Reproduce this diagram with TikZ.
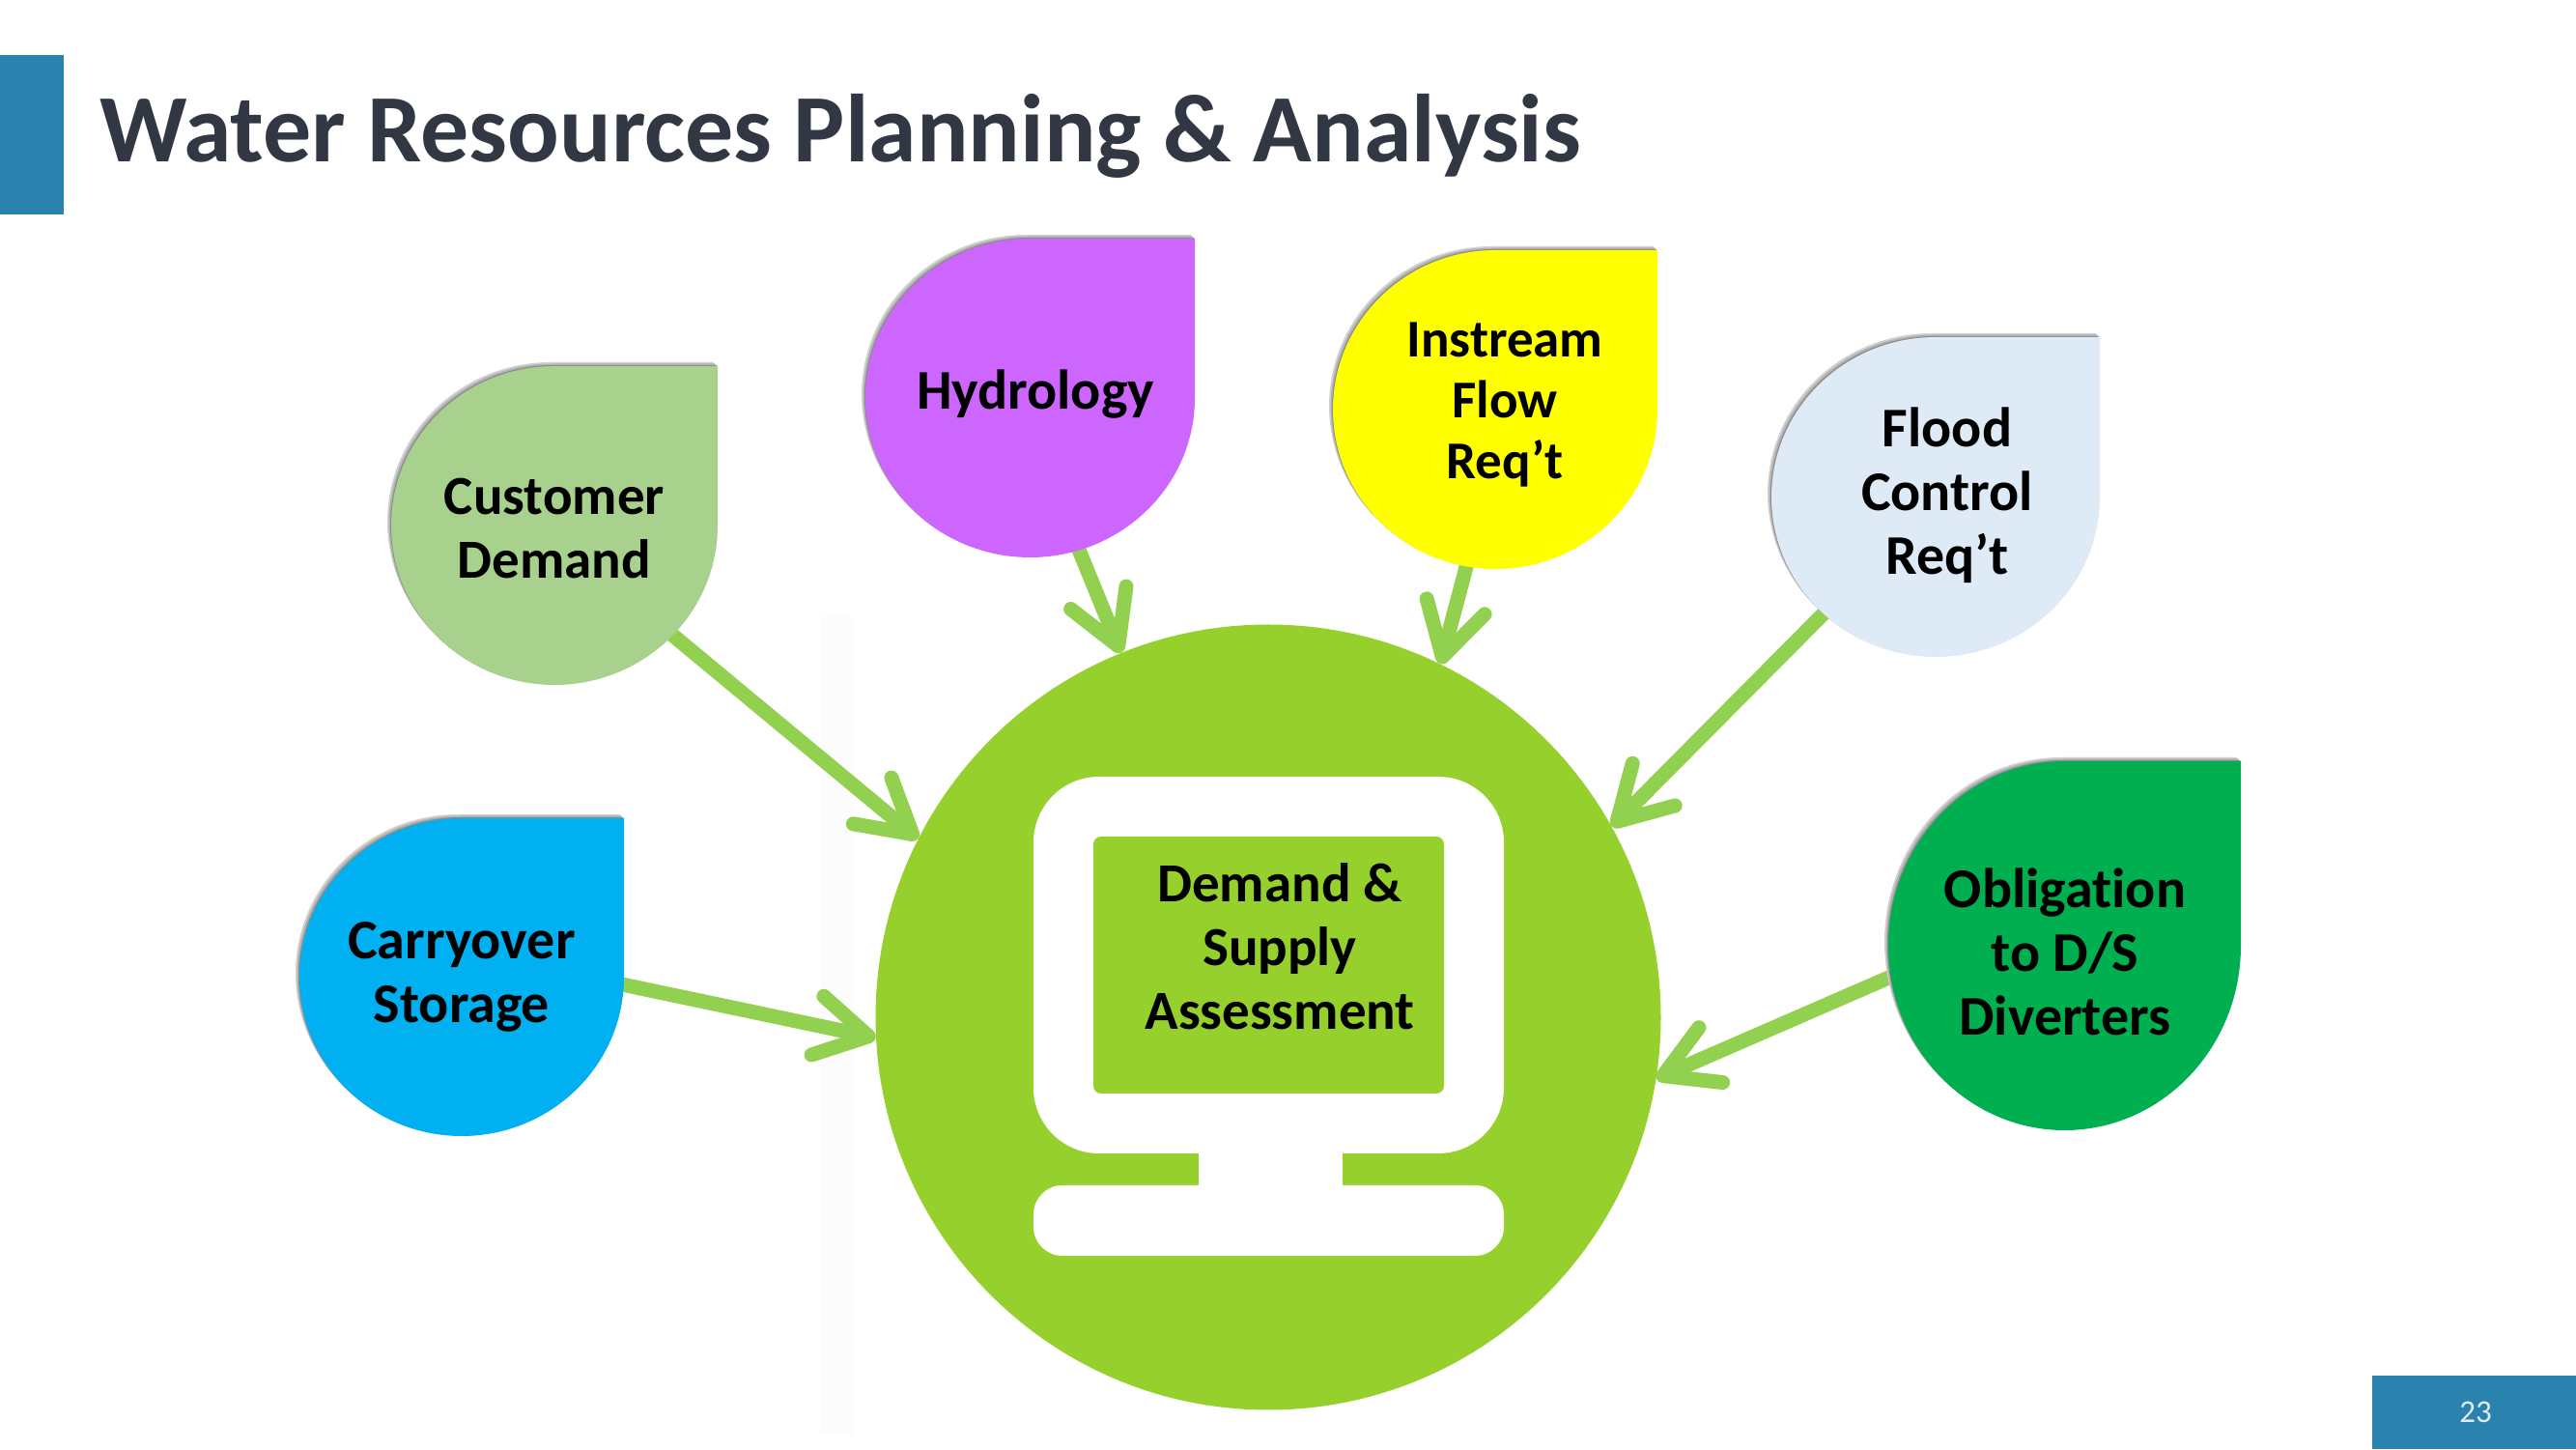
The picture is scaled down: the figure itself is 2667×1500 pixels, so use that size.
\documentclass[tikz,border=0pt]{standalone}
\usepackage{fontspec}
\setmainfont{Carlito}[Ligatures=NoCommon]
\usetikzlibrary{arrows.meta,backgrounds}
\definecolor{banner}{HTML}{2A82AE}
\definecolor{titleink}{HTML}{323843}
\definecolor{hubgreen}{HTML}{96D02D}
\definecolor{flowgreen}{HTML}{92D050}
\definecolor{dropdemand}{HTML}{A9D18E}
\definecolor{drophydro}{HTML}{CC66FF}
\definecolor{dropflow}{HTML}{FFFF00}
\definecolor{dropflood}{HTML}{DEEAF6}
\definecolor{dropstore}{HTML}{00B0F0}
\definecolor{dropoblig}{HTML}{00B050}
% centre x, centre y, radius x, radius y, colour
\newcommand{\teardrop}[5]{
  \foreach \s/\g in {4/18,2.5/30,1/45}
    \fill[black!\g] (#1+#3-\s,#2+#4+\s) -- (#1+#3-\s,#2+\s)
      arc[start angle=0,end angle=-270,x radius=#3,y radius=#4] -- cycle;
  \fill[#5] (#1+#3,#2+#4) -- (#1+#3,#2)
    arc[start angle=0,end angle=-270,x radius=#3,y radius=#4] -- cycle;
}
\tikzset{
  droplabel/.style={align=center,inner sep=0pt,font=\fontsize{29}{33}\selectfont\bfseries},
  flow/.style={flowgreen,line width=7.5pt,-{Straight Barb[length=27pt,width=31pt,line width=7.5pt,round]}}
}

\begin{document}
\begin{tikzpicture}[x=0.5pt,y=0.5pt]
  \useasboundingbox (0,0) rectangle (2667,1500);

  % slide furniture
  \fill[banner] (0,1278) rectangle (66,1443);
  \fill[banner] (2456,0) rectangle (2667,76);
  \node[anchor=base west,inner sep=0pt,titleink,font=\fontsize{50}{50}\selectfont\bfseries] (title) at (103,1332) {Water Resources Planning \& Analysis};
  \node[white!85!banner,inner sep=0pt,font=\fontsize{16.5}{16.5}\selectfont] (page) at (2563,38) {23};

  % hub with the monitor
  \node[circle,fill=hubgreen,inner sep=0pt,minimum size=406.5pt] (hub) at (1313,447) {};
  \fill[white,rounded corners=34pt] (1070,306) rectangle (1557,696);
  \fill[white] (1241,250) rectangle (1390,320);
  \fill[white,rounded corners=15pt] (1070,200) rectangle (1557,273);
  \fill[hubgreen,rounded corners=4pt] (1132,368) rectangle (1495,634);
  \node[droplabel,font=\fontsize{28.5}{33}\selectfont\bfseries] (assess) at (1325,520) {Demand \&\\Supply\\Assessment};

  % labels of the drops
  \node[droplabel,font=\fontsize{28.5}{33}\selectfont\bfseries] (demand) at (574,953) {Customer\\Demand};
  \node[droplabel] (hydro) at (1072,1092) {Hydrology};
  \node[droplabel,font=\fontsize{27.5}{31.5}\selectfont\bfseries] (instream) at (1558,1081) {Instream\\Flow\\Req’t};
  \node[droplabel] (flood) at (2016,987) {Flood\\Control\\Req’t};
  \node[droplabel] (carry) at (478,489) {Carryover\\Storage};
  \node[droplabel] (oblig) at (2138,515) {Obligation\\to D/S\\Diverters};

  \begin{pgfonlayer}{background}
    % faint strip left of the hub
    \fill[black!1] (850,15) rectangle (883,862);

    % arrows run in under the drops
    \draw[flow] (demand.-45) -- (hub.153.8);
    \draw[flow] (hydro.-112) -- (hub.112.5);
    \draw[flow] (instream.-102) -- (hub.64.1);
    \draw[flow] (flood.-137) -- (hub.29.6);
    \draw[flow] (carry.1) -- (hub.183.1);
    \draw[flow] (oblig.181) -- (hub.-9.3);

    % drops
    \teardrop{574}{956}{169}{165}{dropdemand}
    \teardrop{1066.5}{1088}{170.5}{165}{drophydro}
    \teardrop{1548}{1076}{168}{165}{dropflow}
    \teardrop{2004}{985.5}{170}{165.5}{dropflood}
    \teardrop{478}{488.5}{168}{164.5}{dropstore}
    \teardrop{2137.5}{521}{182.5}{191}{dropoblig}
  \end{pgfonlayer}
\end{tikzpicture}
\end{document}
